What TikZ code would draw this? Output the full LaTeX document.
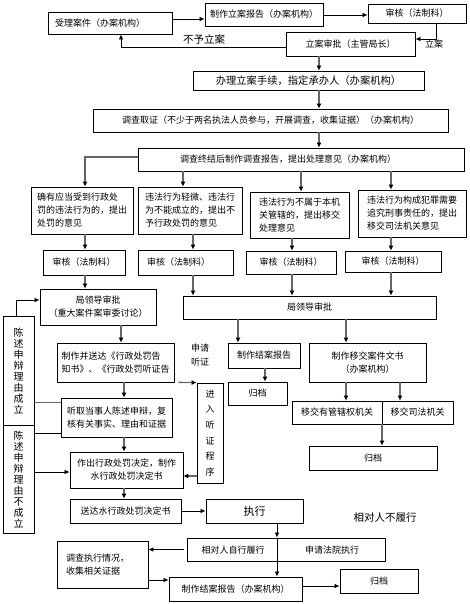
\documentclass[tikz,border=0pt]{standalone}
\usepackage{fontspec}
\setmainfont{Noto Sans CJK SC}
\usetikzlibrary{arrows.meta}
\tikzset{>={Latex[length=5pt,width=4.5pt]}}
\colorlet{arrcol}{black!60}
\tikzstyle{box}=[draw,line width=0.8pt,inner sep=0pt,align=center,font=\fontsize{9}{13}\selectfont]
\tikzstyle{lbl}=[inner sep=0pt,font=\fontsize{9}{13}\selectfont]
\tikzstyle{arr}=[-{Latex[length=5pt,width=5pt,black]},arrcol,line width=1.4pt]
\tikzstyle{arrk}=[->,line width=0.7pt]
\def\varr#1#2#3{\draw[arr] (#1.south -| #3,0) -- (#2.north -| #3,0);}

\begin{document}
\begin{tikzpicture}[x=1pt,y=-1pt]
  \useasboundingbox (0,0) rectangle (470,604);
  \def\xm{319} % main column

  % FILING
  \node[box,minimum width=124pt,minimum height=22pt,align=left,text width=110pt,inner xsep=7pt] (shouli) at (110,23) {受理案件（办案机构）};
  \node[box,minimum width=118pt,minimum height=23pt] (lianbg) at (264,14.5) {制作立案报告（办案机构）};
  \node[box,minimum width=98pt,minimum height=19pt] (shenhe0) at (417,13.5) {审核（法制科）};
  \node[box,minimum width=129pt,minimum height=24pt] (lasp) at (350.5,44) {立案审批（主管局长）};
  \node[lbl,font=\fontsize{10.5}{13}\selectfont] (buyu) at (204,39) {不予立案};
  \node[lbl] (lian) at (434,44) {立案};
  \node[box,minimum width=231pt,minimum height=19pt,font=\fontsize{10.3}{13}\selectfont] (banli) at (308.5,80.5) {办理立案手续，指定承办人（办案机构）};

  % INVESTIGATION
  \node[box,minimum width=355pt,minimum height=23pt] (diaocha) at (270.5,120.5) {调查取证（不少于两名执法人员参与，开展调查，收集证据）（办案机构）};
  \node[box,minimum width=326pt,minimum height=23pt,align=left,text width=242pt,inner xsep=42pt] (zhongjie) at (301,159.5) {调查终结后制作调查报告，提出处理意见（办案机构）};
  \node[box,minimum width=102pt,minimum height=47pt,align=left] (yja) at (82,210.5) {确有应当受到行政处\\罚的违法行为的，提出\\处罚的意见};
  \node[box,minimum width=104pt,minimum height=47pt,align=left] (yjb) at (190,210.5) {违法行为轻微、违法行\\为不能成立的，提出不\\予行政处罚的意见};
  \node[box,minimum width=99pt,minimum height=46pt,align=left] (yjc) at (299.5,215) {违法行为不属于本机\\关管辖的，提出移交\\处理意见};
  \node[box,minimum width=108pt,minimum height=47pt,align=left] (yjd) at (412,213.5) {违法行为构成犯罪需要\\追究刑事责任的，提出\\移交司法机关意见};
  \node[box,minimum width=82pt,minimum height=25pt] (sha) at (84,262.5) {审核（法制科）};
  \node[box,minimum width=95pt,minimum height=25pt,align=left,text width=77pt,inner xsep=9pt] (shb) at (185.5,262.5) {审核（法制科）};
  \node[box,minimum width=90pt,minimum height=23pt] (shc) at (291,262.5) {审核（法制科）};
  \node[box,minimum width=96pt,minimum height=21pt] (shd) at (393,261.5) {审核（法制科）};
  \node[box,minimum width=116pt,minimum height=36pt] (ldl) at (98,307) {局领导审批\\（重大案件案审委讨论）};
  \node[box,minimum width=253pt,minimum height=23pt] (ldr) at (309.5,307.5) {局领导审批};

  % PENALTY
  \node[box,minimum width=31pt,minimum height=109pt,font=\fontsize{10}{11}\selectfont] (cs1) at (18.5,370.5) {陈\\述\\申\\辩\\理\\由\\成\\立};
  \node[box,minimum width=31pt,minimum height=108pt,font=\fontsize{10}{11}\selectfont] (cs2) at (18.5,479) {陈\\述\\申\\辩\\理\\由\\不\\成\\立};
  \node[box,minimum width=117pt,minimum height=39pt,align=left] (zzsd) at (115.5,362.5) {制作并送达《行政处罚告\\知书》、《行政处罚听证告};
  \node[box,minimum width=111pt,minimum height=39pt,align=left] (tingqu) at (116.5,417.5) {听取当事人陈述申辩，复\\核有关事实、理由和证据};
  \node[box,minimum width=113pt,minimum height=36pt] (zuochu) at (126.5,470) {作出行政处罚决定，制作\\水行政处罚决定书};
  \node[box,minimum width=111pt,minimum height=24pt] (songda) at (125.5,511) {送达水行政处罚决定书};
  \node[lbl,align=left,font=\fontsize{9}{14}\selectfont] (sqtz) at (200,355) {申请\\听证};
  \node[box,minimum width=26pt,minimum height=100pt,font=\fontsize{9}{15.6}\selectfont] (tz) at (210,433) {进\\入\\听\\证\\程\\序};

  % OTHER OUTCOMES
  \node[box,minimum width=72pt,minimum height=25pt] (jiean) at (264,355.5) {制作结案报告};
  \node[box,minimum width=59pt,minimum height=23pt] (gd1) at (257.5,393.5) {归档};
  \node[box,minimum width=117pt,minimum height=39pt] (yijiao) at (367.5,362.5) {制作移交案件文书\\（办案机构）};
  \node[box,minimum width=90pt,minimum height=23pt] (yjq) at (337,412.5) {移交有管辖权机关};
  \node[box,minimum width=71pt,minimum height=23pt] (yjs) at (417.5,412.5) {移交司法机关};
  \node[box,minimum width=128pt,minimum height=24pt] (gd2) at (373,458) {归档};

  % EXECUTION
  \node[box,minimum width=97pt,minimum height=24pt,font=\fontsize{11}{13}\selectfont] (zhixing) at (254.5,511) {执行};
  \node[lbl,font=\fontsize{10.5}{13}\selectfont] (blx) at (385,518) {相对人不履行};
  \node[box,minimum width=198pt,minimum height=23pt] (lvx) at (286,549.5) {};
  \node[lbl] (zxlx) at (233,550) {相对人自行履行};
  \node[lbl] (sqfy) at (332,550) {申请法院执行};
  \node[box,minimum width=91pt,minimum height=47pt,align=left,text width=73pt,inner xsep=9pt] (dczx) at (102.5,564.5) {调查执行情况，\\收集相关证据};
  \node[box,minimum width=133pt,minimum height=24pt] (jiean2) at (235.5,589) {制作结案报告（办案机构）};
  \node[box,minimum width=78pt,minimum height=24pt] (gd3) at (379,581) {归档};

  % ARROWS
  \draw[arrk] (shouli.east |- 0,19) -- (lianbg.west |- 0,19);
  \draw[arrk] (lianbg.east |- 0,15) -- (shenhe0.west |- 0,15);
  \draw[arrk] (shenhe0.south -| 436,0) |- (lasp.east |- 0,39);
  \draw[arrk] (lasp.west |- 0,47) -| (shouli.south -| 121,0);
  \varr{lasp}{banli}{\xm}
  \varr{banli}{diaocha}{\xm}
  \varr{diaocha}{zhongjie}{\xm}
  \draw[arr] (zhongjie.west |- 0,157) -| (yja.north -| 85,0);
  \varr{zhongjie}{yjb}{183}
  \varr{zhongjie}{yjc}{301}
  \varr{zhongjie}{yjd}{391}
  \varr{yja}{sha}{85}
  \varr{yjb}{shb}{193}
  \varr{yjc}{shc}{292}
  \varr{yjd}{shd}{391}
  \varr{sha}{ldl}{85}
  \varr{shb}{ldr}{193}
  \varr{shc}{ldr}{292}
  \varr{shd}{ldr}{391}
  \varr{ldr}{jiean}{238}
  \varr{ldr}{yijiao}{346}
  \varr{jiean}{gd1}{265}
  \varr{yijiao}{yjq}{346}
  \varr{yijiao}{yjs}{400}
  \varr{yjq}{gd2}{382}
  \varr{ldl}{zzsd}{121}
  \varr{zzsd}{tingqu}{124}
  \varr{tingqu}{zuochu}{124}
  \varr{zuochu}{songda}{124}
  \draw[arr] ([xshift=4pt]zzsd.south east) -- (tz.north west);
  \draw[arr] (tz.west |- 0,476) -- (zuochu.east |- 0,476);
  \draw[arrk] (cs1.north -| 16,0) |- (ldl.west |- 0,300);
  \draw[arrcol,line width=1pt] (cs1.east |- 0,402) -- (tingqu.west |- 0,402);
  \draw[line width=0.7pt] (cs2.east |- 0,433) -- (tingqu.west |- 0,433);
  \draw[arrk] (cs2.east |- 0,472) -- (zuochu.west |- 0,472);
  \draw[arrk] (songda.east) -- (zhixing.west);
  \draw[arrk] (zhixing.south -| 277,0) -- (lvx.north -| 277,0);
  \draw[arrk] (lvx.north -| 277,0) -- (jiean2.north -| 277,0);
  \draw[arrk] ([xshift=-3pt]lvx.west) -- (dczx.east |- lvx.west);
  \draw[arrk] (dczx.east |- 0,580) -- (jiean2.west |- 0,580);
  \draw[arrk] (jiean2.east |- 0,586) -- (gd3.west |- 0,586);

\end{tikzpicture}
\end{document}
